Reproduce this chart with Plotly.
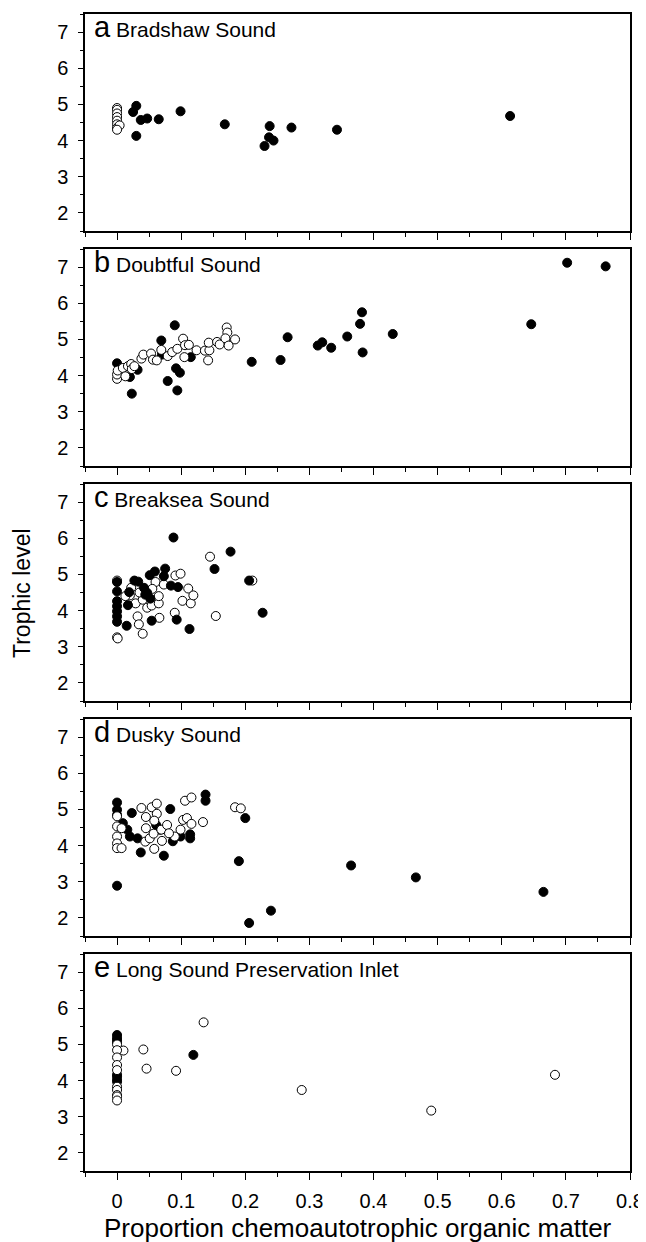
import plotly.graph_objects as go

# ---------------- data ----------------
panel_letters = ["a", "b", "c", "d", "e"]
panel_names = ["Bradshaw Sound", "Doubtful Sound", "Breaksea Sound", "Dusky Sound",
               "Long Sound Preservation Inlet"]

# Panel a - Bradshaw Sound
a_open_x = [0, 0, 0, 0, 0, 0, 0, 0.004, 0]
a_open_y = [4.9, 4.85, 4.75, 4.65, 4.55, 4.45, 4.35, 4.42, 4.3]
a_fill_x = [0.025, 0.03, 0.03, 0.037, 0.047, 0.065, 0.099, 0.168, 0.23, 0.238, 0.237,
            0.244, 0.272, 0.343, 0.613]
a_fill_y = [4.79, 4.96, 4.13, 4.57, 4.61, 4.59, 4.81, 4.45, 3.85, 4.40, 4.09,
            4.0, 4.36, 4.30, 4.68]

# Panel b - Doubtful Sound
b_fill_x = [0.702, 0.762, 0.382, 0.379, 0.383, 0.646, 0.43, 0.359, 0.334, 0.32, 0.313,
            0.266, 0.255, 0.21, 0.09, 0.069, 0.07, 0.079, 0.094, 0.092, 0.098, 0.115,
            0.0, 0.02, 0.023, 0.032]
b_fill_y = [7.12, 7.02, 5.75, 5.43, 4.64, 5.42, 5.15, 5.08, 4.77, 4.92, 4.83,
            5.06, 4.43, 4.38, 5.39, 4.97, 4.58, 3.85, 3.59, 4.2, 4.08, 4.51,
            4.34, 3.96, 3.5, 4.16]
b_open_x = [0, 0, 0.001, 0.009, 0.013, 0.017, 0.022, 0.023, 0.027, 0.038, 0.041, 0.053,
            0.056, 0.062, 0.069, 0.079, 0.086, 0.094, 0.103, 0.106, 0.112, 0.105, 0.124,
            0.137, 0.142, 0.144, 0.143, 0.156, 0.16, 0.171, 0.172, 0.169, 0.174, 0.184]
b_open_y = [3.91, 4.03, 4.14, 4.21, 3.98, 4.26, 4.32, 4.18, 4.26, 4.47, 4.58, 4.61,
            4.44, 4.42, 4.71, 4.54, 4.65, 4.74, 5.02, 4.84, 4.85, 4.51, 4.7,
            4.69, 4.42, 4.7, 4.91, 4.93, 4.86, 5.33, 5.19, 5.03, 4.83, 5.0]

# Panel c - Breaksea Sound
c_open_x = [0, 0, 0.001, 0.022, 0.02, 0.013, 0.029, 0.032, 0.034, 0.04, 0.047, 0.054,
            0.065, 0.066, 0.06, 0.073, 0.091, 0.099, 0.09, 0.111, 0.102, 0.115, 0.119,
            0.145, 0.154, 0.211, 0.04, 0.035, 0.055, 0.065]
c_open_y = [4.83, 3.26, 3.23, 4.63, 4.42, 4.4, 4.2, 3.84, 3.62, 3.36, 4.08, 4.14,
            4.2, 3.8, 4.79, 4.72, 4.97, 5.02, 3.94, 4.61, 4.27, 4.2, 4.42,
            5.49, 3.85, 4.83, 4.3, 4.5, 4.6, 4.4]
c_fill_x = [0.088, 0.177, 0.152, 0.206, 0.227, 0.113, 0.093, 0.054, 0.015, 0, 0, 0,
            0, 0, 0, 0, 0.017, 0.019, 0.027, 0.033, 0.042, 0.047, 0.052, 0.044,
            0.051, 0.059, 0.075, 0.073, 0.084, 0.095]
c_fill_y = [6.02, 5.63, 5.15, 4.83, 3.94, 3.49, 3.75, 3.72, 3.58, 4.79, 4.53, 4.26,
            4.12, 3.98, 3.84, 3.69, 4.15, 4.51, 4.83, 4.8, 4.63, 4.49, 4.33, 4.44,
            4.98, 5.08, 5.16, 4.95, 4.69, 4.65]

# Panel d - Dusky Sound
d_fill_x = [0, 0, 0, 0, 0.023, 0.009, 0.016, 0.02, 0.032, 0.037, 0.073, 0.083, 0.087,
            0.099, 0.114, 0.114, 0.138, 0.138, 0.2, 0.19, 0.206, 0.24, 0.365, 0.466,
            0.665, 0.061, 0.067]
d_fill_y = [5.19, 4.99, 4.85, 2.89, 4.9, 4.62, 4.44, 4.25, 4.2, 3.81, 3.72, 5.01, 4.12,
            4.25, 4.2, 4.31, 5.41, 5.24, 4.76, 3.57, 1.86, 2.2, 3.45, 3.12,
            2.72, 4.57, 4.44]
d_open_x = [0, 0, 0, 0, 0, 0.007, 0.007, 0.038, 0.045, 0.045, 0.044, 0.051, 0.054,
            0.062, 0.062, 0.058, 0.057, 0.058, 0.069, 0.07, 0.078, 0.09, 0.099, 0.103,
            0.109, 0.116, 0.106, 0.116, 0.134, 0.184, 0.193, 0.081]
d_open_y = [4.81, 4.53, 4.25, 4.06, 3.93, 4.48, 3.93, 5.04, 4.79, 4.48, 4.11, 4.2, 5.06,
            5.16, 4.88, 4.69, 4.33, 3.91, 4.44, 4.13, 4.57, 4.25, 4.44, 4.71,
            4.76, 4.6, 5.24, 5.33, 4.65, 5.06, 5.03, 4.34]

# Panel e - Long Sound Preservation Inlet
e_fill_x = [0.119, 0, 0, 0, 0, 0, 0, 0, 0]
e_fill_y = [4.71, 5.26, 5.18, 5.12, 5.06, 4.11, 4.02, 3.97, 4.16]
e_open_x = [0.135, 0.041, 0.046, 0.092, 0.288, 0.49, 0.683, 0.01,
            0, 0, 0, 0, 0, 0, 0, 0, 0, 0]
e_open_y = [5.61, 4.86, 4.33, 4.27, 3.74, 3.17, 4.16, 4.83,
            5.0, 4.84, 4.64, 4.43, 4.29, 3.83, 3.74, 3.6, 3.56, 3.45]

panels = [
    (a_fill_x, a_fill_y, a_open_x, a_open_y, "open_top"),
    (b_fill_x, b_fill_y, b_open_x, b_open_y, "open_top"),
    (c_fill_x, c_fill_y, c_open_x, c_open_y, "fill_top"),
    (d_fill_x, d_fill_y, d_open_x, d_open_y, "open_top"),
    (e_fill_x, e_fill_y, e_open_x, e_open_y, "open_top"),
]

x_ticks = [0, 0.1, 0.2, 0.3, 0.4, 0.5, 0.6, 0.7, 0.8]
x_tick_text = ["0", "0.1", "0.2", "0.3", "0.4", "0.5", "0.6", "0.7", "0.8"]
y_ticks = [2, 3, 4, 5, 6, 7]

# ---------------- layout geometry ----------------
# page body has an 8px default margin, so the figure is sized/shifted to fit
W, H = 638, 1234
m_l, m_r, m_t, m_b = 77, 16, 6, 70
plot_h = H - m_t - m_b
panel_h = 217
panel_step = 235

FONT = "Liberation Sans, Arial, Helvetica, sans-serif"

fig = go.Figure()
layout = dict(
    width=W, height=H,
    margin=dict(l=m_l, r=m_r, t=m_t, b=m_b, autoexpand=False),
    plot_bgcolor="white", paper_bgcolor="white",
    showlegend=False,
    font=dict(family=FONT, size=20, color="black"),
)

annotations = []
for i, (fx, fy, ox, oy, order) in enumerate(panels):
    n = i + 1
    xa = "x" if n == 1 else f"x{n}"
    ya = "y" if n == 1 else f"y{n}"
    top_px = i * panel_step
    d_top = 1 - top_px / plot_h
    d_bot = 1 - (top_px + panel_h) / plot_h

    fill_tr = go.Scatter(x=fx, y=fy, mode="markers", xaxis=xa, yaxis=ya,
                         marker=dict(size=9, color="black",
                                     line=dict(color="black", width=1)),
                         hoverinfo="skip")
    open_tr = go.Scatter(x=ox, y=oy, mode="markers", xaxis=xa, yaxis=ya,
                         marker=dict(size=9, color="white",
                                     line=dict(color="black", width=1)),
                         hoverinfo="skip")
    if order == "open_top":
        fig.add_trace(fill_tr)
        fig.add_trace(open_tr)
    else:
        fig.add_trace(open_tr)
        fig.add_trace(fill_tr)

    xkey = "xaxis" if n == 1 else f"xaxis{n}"
    ykey = "yaxis" if n == 1 else f"yaxis{n}"
    layout[xkey] = dict(
        domain=[0, 1], anchor=ya, range=[-0.05, 0.8], automargin=False,
        tickvals=x_ticks, ticktext=x_tick_text,
        showticklabels=(n == 5), ticklabelstandoff=4,
        ticks="outside", ticklen=7, tickwidth=1.3, tickcolor="black",
        minor=dict(dtick=0.05, tick0=0, ticks="outside", ticklen=4,
                   tickwidth=1.3, tickcolor="black"),
        showline=True, linecolor="black", linewidth=1.5, mirror=True,
        showgrid=False, zeroline=False,
        tickfont=dict(family=FONT, size=20, color="black"),
    )
    layout[ykey] = dict(
        domain=[d_bot, d_top], anchor=xa, range=[1.5, 7.5], automargin=False,
        tickvals=y_ticks, ticklabelstandoff=6,
        ticks="outside", ticklen=5, tickwidth=1.3, tickcolor="black",
        minor=dict(dtick=0.5, tick0=0, ticks="outside", ticklen=3,
                   tickwidth=1.3, tickcolor="black"),
        showline=True, linecolor="black", linewidth=1.5, mirror=True,
        showgrid=False, zeroline=False,
        tickfont=dict(family=FONT, size=20, color="black"),
    )
    annotations.append(dict(
        xref=f"{xa} domain", yref=f"{ya} domain", x=0, y=1,
        xanchor="left", yanchor="top", xshift=7, yshift=5,
        showarrow=False, align="left",
        text=f"<span style='font-size:29px'>{panel_letters[i]}</span> {panel_names[i]}",
        font=dict(family=FONT, size=21, color="black"),
    ))

annotations.append(dict(
    xref="paper", yref="paper", x=0, y=0.5, xanchor="center", yanchor="middle",
    xshift=-m_l + 14, textangle=-90, showarrow=False,
    text="Trophic level", font=dict(family=FONT, size=23, color="black"),
))
annotations.append(dict(
    xref="paper", yref="paper", x=0.5, y=0, xanchor="center", yanchor="middle",
    yshift=-56, showarrow=False,
    text="Proportion chemoautotrophic organic matter",
    font=dict(family=FONT, size=26, color="black"),
))
layout["annotations"] = annotations
fig.update_layout(**layout)

fig.write_html("out.html")
